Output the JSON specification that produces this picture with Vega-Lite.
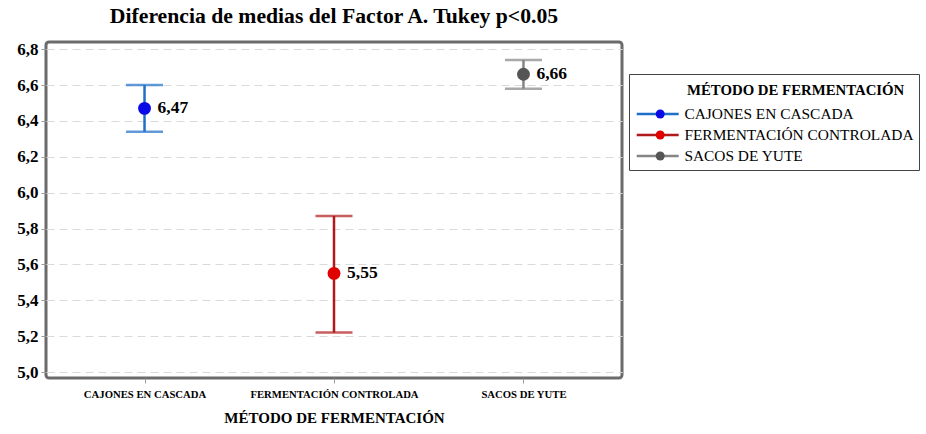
{
  "$schema": "https://vega.github.io/schema/vega-lite/v6.json",
  "width": 576,
  "height": 336,
  "autosize": {"type": "none"},
  "padding": {"left": 46, "top": 42, "right": 304, "bottom": 56},
  "background": "white",
  "title": {"text": "Diferencia de medias del Factor A. Tukey p<0.05", "font": "Liberation Serif", "fontSize": 21.7, "fontWeight": "bold", "color": "black", "anchor": "middle", "offset": 12},
  "config": {
    "view": {"stroke": "#6b6b6b", "strokeWidth": 3, "cornerRadius": 3},
    "axis": {"labelFont": "Liberation Serif", "titleFont": "Liberation Serif", "labelColor": "black", "titleColor": "black", "labelFontWeight": "bold", "titleFontWeight": "bold", "tickColor": "#9a9a9a", "domain": false}
  },
  "data": {"values": [
    {"metodo": "CAJONES EN CASCADA", "grupo": "CAJONES EN CASCADA", "media": 6.47, "lo": 6.34, "hi": 6.60, "label": "6,47"},
    {"metodo": "FERMENTACIÓN CONTROLADA", "grupo": "FERMENTACIÓN CONTROLADA", "media": 5.55, "lo": 5.22, "hi": 5.87, "label": "5,55"},
    {"metodo": "SACOS DE YUTE", "grupo": "SACOS DE YUTE", "media": 6.66, "lo": 6.58, "hi": 6.74, "label": "6,66"}
  ]},
  "encoding": {
    "x": {"field": "metodo", "type": "nominal", "scale": {"type": "point", "padding": 0.52}, "sort": null,
      "axis": {"title": "MÉTODO DE FERMENTACIÓN", "labelAngle": 0, "labelFontSize": 10.7, "titleFontSize": 15, "tickSize": 5, "labelPadding": 6, "titlePadding": 12, "grid": false}},
    "y": {"type": "quantitative", "scale": {"domain": [4.967, 6.84], "nice": false, "zero": false},
      "axis": {"title": null, "values": [5.0, 5.2, 5.4, 5.6, 5.8, 6.0, 6.2, 6.4, 6.6, 6.8], "labelExpr": "replace(format(datum.value, '.1f'), '.', ',')", "labelFontSize": 17, "tickSize": 5, "labelPadding": 3, "grid": true, "gridColor": "#dadada", "gridDash": [8, 5], "gridWidth": 1}}
  },
  "layer": [
    {"mark": {"type": "rule", "strokeWidth": 2.5},
      "encoding": {"y": {"field": "lo", "type": "quantitative"}, "y2": {"field": "hi"},
        "color": {"field": "metodo", "type": "nominal", "sort": null,
          "scale": {"domain": ["CAJONES EN CASCADA", "FERMENTACIÓN CONTROLADA", "SACOS DE YUTE"], "range": ["#1f6fc9", "#b01a1a", "#858585"]},
          "legend": {"title": "MÉTODO DE FERMENTACIÓN", "orient": "none", "legendX": 583, "legendY": 32,
            "titleFont": "Liberation Serif", "titleFontSize": 14.8, "titleFontWeight": "bold", "titleColor": "black", "titleLimit": 400,
            "labelFont": "Liberation Serif", "labelFontSize": 15.4, "labelColor": "black", "labelLimit": 400,
            "symbolType": "M -1 0 H 7.4", "symbolSize": 100, "symbolStrokeWidth": 2.5,
            "rowPadding": 4, "padding": 5, "strokeColor": "#444", "fillColor": "transparent", "titlePadding": 12.5, "labelOffset": 35,
            "encode": {"title": {"update": {"dx": {"value": 53}, "dy": {"value": 4}}}}}}}},
    {"mark": {"type": "tick", "thickness": 2.5, "size": 37}, "encoding": {"y": {"field": "lo", "type": "quantitative"}, "color": {"field": "metodo", "type": "nominal", "sort": null}}},
    {"mark": {"type": "tick", "thickness": 2.5, "size": 37}, "encoding": {"y": {"field": "hi", "type": "quantitative"}, "color": {"field": "metodo", "type": "nominal", "sort": null}}},
    {"mark": {"type": "point", "filled": true, "size": 165, "opacity": 1}, "encoding": {"y": {"field": "media", "type": "quantitative"},
      "fill": {"field": "grupo", "type": "nominal", "sort": null, "scale": {"range": ["#0a0ae6", "#e00000", "#555555"]},
        "legend": {"title": " ", "orient": "none", "legendX": 601.5, "legendY": 32,
          "titleFont": "Liberation Serif", "titleFontSize": 14.8, "titleFontWeight": "bold", "titleColor": "black", "titleOpacity": 0,
          "labelFont": "Liberation Serif", "labelFontSize": 15.4, "labelColor": "black", "labelOpacity": 0, "labelExpr": "' '",
          "symbolType": "circle", "symbolSize": 81, "symbolStrokeWidth": 0, "symbolOpacity": 1,
          "rowPadding": 4, "padding": 5, "strokeColor": "transparent", "fillColor": "transparent", "titlePadding": 12.5, "labelOffset": 35,
          "encode": {"title": {"update": {"dy": {"value": 4}}}}}}}},
    {"mark": {"type": "text", "align": "left", "dx": 13, "font": "Liberation Serif", "fontSize": 17.5, "fontWeight": "bold", "color": "black"},
      "encoding": {"y": {"field": "media", "type": "quantitative"}, "text": {"field": "label"}}}
  ]
}
